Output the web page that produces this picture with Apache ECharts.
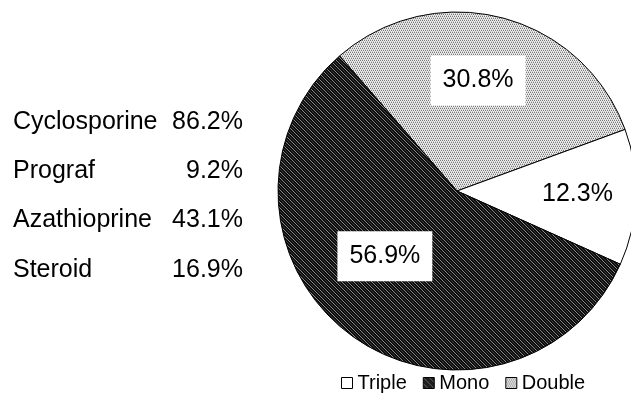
<!DOCTYPE html>
<html>
<head>
<meta charset="utf-8">
<script src="https://cdn.jsdelivr.net/npm/echarts@6/dist/echarts.min.js"></script>
<style>
  html, body { margin: 0; padding: 0; background: #fff; }
  #chart { width: 631px; height: 398px; }
</style>
</head>
<body>
<div id="chart"></div>
<script>
// Immunosuppressive drug usage (left list)
const drugNames = ['Cyclosporine', 'Prograf', 'Azathioprine', 'Steroid'];
const drugShares = [86.2, 9.2, 43.1, 16.9];

// Regimen split (pie), in drawing order
const regimenNames = ['Double', 'Triple', 'Mono'];
const regimenShares = [30.8, 12.3, 56.9];

// Legend order
const legendNames = ['Triple', 'Mono', 'Double'];

const FONT = '"Liberation Sans", Arial, Helvetica, sans-serif';

// Small tiled fills imitating the printed hatch patterns
function makeTile(size, bg, dots) {
  const c = document.createElement('canvas');
  c.width = size; c.height = size;
  const g = c.getContext('2d');
  g.fillStyle = bg;
  g.fillRect(0, 0, size, size);
  dots.forEach(function (d) {
    g.fillStyle = d[2];
    g.fillRect(d[0], d[1], 1, 1);
  });
  return c;
}

const dottedTile = makeTile(4, '#ececec', [
  [0, 0, '#7a7a7a'], [2, 0, '#7a7a7a'],
  [1, 1, '#c4c4c4'], [3, 1, '#c4c4c4'],
  [1, 2, '#7a7a7a'], [3, 2, '#7a7a7a'],
  [0, 3, '#c4c4c4'], [2, 3, '#c4c4c4']
]);

const darkDots = [];
for (let i = 0; i < 6; i++) {
  darkDots.push([i, i, '#8a8a8a']);
  darkDots.push([(i + 3) % 6, i, '#3a3a3a']);
}
const darkTile = makeTile(6, '#0d0d0d', darkDots);

const fills = {
  Double: { image: dottedTile, repeat: 'repeat' },
  Triple: '#ffffff',
  Mono: { image: darkTile, repeat: 'repeat' }
};

// Nudges for the slice labels
const labelNudge = {
  Double: [-2, -21],
  Triple: [28, 0],
  Mono: [-17, -9]
};

const pieData = regimenNames.map(function (name, i) {
  return {
    name: name,
    value: regimenShares[i],
    itemStyle: { color: fills[name] },
    label: {
      offset: labelNudge[name],
      backgroundColor: name === 'Triple' ? 'transparent' : '#ffffff'
    }
  };
});

// Left-hand list as text graphics
const listElements = [];
drugNames.forEach(function (name, i) {
  const y = 122 + i * 49.3;
  listElements.push({
    type: 'text',
    x: 13, y: y,
    style: {
      text: name,
      font: '25px ' + FONT,
      fill: '#000',
      textAlign: 'left',
      textVerticalAlign: 'middle'
    }
  });
  listElements.push({
    type: 'text',
    x: 243, y: y,
    style: {
      text: drugShares[i].toFixed(1) + '%',
      font: '25px ' + FONT,
      fill: '#000',
      textAlign: 'right',
      textVerticalAlign: 'middle'
    }
  });
});

const chart = echarts.init(document.getElementById('chart'), null, { renderer: 'canvas' });
chart.setOption({
  animation: false,
  backgroundColor: '#ffffff',
  legend: {
    data: legendNames,
    left: 336,
    top: 368,
    icon: 'rect',
    itemWidth: 11,
    itemHeight: 11,
    itemGap: 16,
    itemStyle: { borderColor: '#000', borderWidth: 1 },
    textStyle: { fontFamily: FONT, fontSize: 20, color: '#000' },
    selectedMode: false
  },
  graphic: { elements: listElements },
  series: [{
    type: 'pie',
    center: [457, 191],
    radius: 179,
    startAngle: 131,
    clockwise: true,
    avoidLabelOverlap: false,
    silent: true,
    itemStyle: { borderColor: '#000', borderWidth: 1 },
    label: {
      show: true,
      position: 'inside',
      formatter: function (p) { return p.value.toFixed(1) + '%'; },
      fontFamily: FONT,
      fontSize: 25,
      color: '#000',
      lineHeight: 26,
      padding: [12, 12, 12, 12],
      textBorderWidth: 0
    },
    labelLine: { show: false },
    emphasis: { disabled: true },
    data: pieData
  }]
});
</script>
</body>
</html>
